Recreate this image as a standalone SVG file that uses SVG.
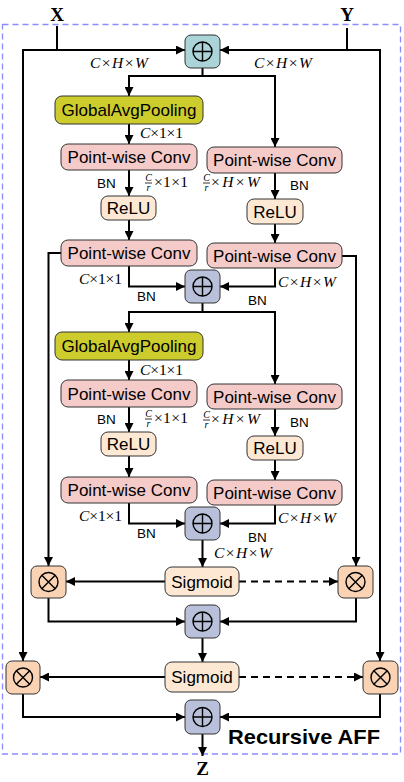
<svg xmlns="http://www.w3.org/2000/svg" width="404" height="782" viewBox="0 0 404 782">
<defs>
<style>
.bx{stroke:#333;stroke-width:1}
.add{fill:#b9c0d9}
.add0{fill:#abd4d8}
.mul{fill:#f9d3b3}
.pw{fill:#f5cbc9}
.gap{fill:#cccc2c}
.act{fill:#fde8d4}
.sym{fill:none;stroke:#000;stroke-width:1.4}
.t{font-family:"Liberation Sans",Arial,sans-serif;font-size:17px;text-anchor:middle;fill:#000}
.bn{font-family:"Liberation Sans",Arial,sans-serif;font-size:13.5px;fill:#000}
.m{font-family:"Liberation Serif","Times New Roman",serif;font-size:15.5px;fill:#000}
.i{font-style:italic}
.fr{font-family:"Liberation Serif",serif;font-style:italic;font-size:10px;text-anchor:middle}
.c{fill:none;stroke:#000;stroke-width:2}
.d{stroke-dasharray:7 5}
.io{font-family:"Liberation Serif","Times New Roman",serif;font-weight:bold;font-size:19px;text-anchor:middle}
</style>
<marker id="ah" viewBox="0 0 10 10" refX="10" refY="5" markerWidth="10" markerHeight="9" markerUnits="userSpaceOnUse" orient="auto">
<path d="M0,0 L10,5 L0,10 z" fill="#000"/>
</marker>
<g id="plusSym"><circle r="9.5" class="sym"/><path d="M-9.5,0 H9.5 M0,-9.5 V9.5" class="sym"/></g>
<g id="mulSym"><circle r="9.5" class="sym"/><path d="M-6.7,-6.7 L6.7,6.7 M-6.7,6.7 L6.7,-6.7" class="sym"/></g>
</defs>

<rect x="2.5" y="24.5" width="398" height="729.5" fill="none" stroke="#8a8cff" stroke-width="1.3" stroke-dasharray="6 4"/>

<text class="io" x="57" y="21">X</text>
<text class="io" x="347" y="21">Y</text>
<text class="io" x="202.5" y="775">Z</text>
<text x="228" y="744" font-family="Liberation Sans,Arial,sans-serif" font-weight="bold" font-size="21" textLength="152" lengthAdjust="spacingAndGlyphs">Recursive AFF</text>

<g id="connectors">
<path class="c" d="M57,26 V50"/>
<path class="c" d="M347,28 V50"/>
<path class="c" marker-end="url(#ah)" d="M22,50 H185"/>
<path class="c" marker-end="url(#ah)" d="M23,50 V661"/>
<path class="c" marker-end="url(#ah)" d="M381,50 H220"/>
<path class="c" marker-end="url(#ah)" d="M380,50 V661"/>
<path class="c" d="M202.5,68 V76"/>
<path class="c" marker-end="url(#ah)" d="M203.5,76 H129 V96"/>
<path class="c" marker-end="url(#ah)" d="M201.5,76 H275 V147"/>
<path class="c" marker-end="url(#ah)" d="M129,124 V144"/>
<path class="c" marker-end="url(#ah)" d="M129,170 V196"/>
<path class="c" marker-end="url(#ah)" d="M275,173 V199"/>
<path class="c" marker-end="url(#ah)" d="M129,220 V240"/>
<path class="c" marker-end="url(#ah)" d="M275,224 V243"/>
<path class="c" marker-end="url(#ah)" d="M129,266 V286.5 H185"/>
<path class="c" marker-end="url(#ah)" d="M275,268 V286.5 H220"/>
<path class="c" marker-end="url(#ah)" d="M61,253 H48.5 V566"/>
<path class="c" marker-end="url(#ah)" d="M342,256 H356 V566"/>
<path class="c" d="M202.5,303 V312"/>
<path class="c" marker-end="url(#ah)" d="M203.5,312 H129 V332"/>
<path class="c" marker-end="url(#ah)" d="M201.5,312 H275 V384"/>
<path class="c" marker-end="url(#ah)" d="M129,360 V380"/>
<path class="c" marker-end="url(#ah)" d="M129,407 V432"/>
<path class="c" marker-end="url(#ah)" d="M275,409 V436"/>
<path class="c" marker-end="url(#ah)" d="M129,456 V477"/>
<path class="c" marker-end="url(#ah)" d="M275,460 V480"/>
<path class="c" marker-end="url(#ah)" d="M129,503 V523.5 H185"/>
<path class="c" marker-end="url(#ah)" d="M275,505 V523.5 H220"/>
<path class="c" marker-end="url(#ah)" d="M202.5,540 V567"/>
<path class="c" marker-end="url(#ah)" d="M165,581.5 H66"/>
<path class="c d" marker-end="url(#ah)" d="M239,581.5 H338"/>
<path class="c" marker-end="url(#ah)" d="M48.5,598 V621.5 H185"/>
<path class="c" marker-end="url(#ah)" d="M356,598 V621.5 H220"/>
<path class="c" marker-end="url(#ah)" d="M202.5,638 V662"/>
<path class="c" marker-end="url(#ah)" d="M165,677 H40"/>
<path class="c d" marker-end="url(#ah)" d="M239,677 H363"/>
<path class="c" marker-end="url(#ah)" d="M23,694 V717 H185"/>
<path class="c" marker-end="url(#ah)" d="M380,694 V717 H220"/>
<path class="c" marker-end="url(#ah)" d="M202.5,734 V756"/>
</g>

<g id="labels">
<text class="m" x="90" y="68" textLength="58"><tspan class="i">C</tspan>×<tspan class="i">H</tspan>×<tspan class="i">W</tspan></text>
<text class="m" x="254" y="68" textLength="58"><tspan class="i">C</tspan>×<tspan class="i">H</tspan>×<tspan class="i">W</tspan></text>
<text class="m" x="140" y="138" textLength="43"><tspan class="i">C</tspan>×1×1</text>
<text class="bn" x="97" y="188">BN</text>
<text class="fr" x="148.5" y="180.5">C</text><path d="M145,183 H152" stroke="#000" stroke-width="0.8"/><text class="fr" x="148.5" y="190.5">r</text>
<text class="m" x="154" y="187" textLength="34">×1×1</text>
<text class="fr" x="206.5" y="180.5">C</text><path d="M203,183 H210" stroke="#000" stroke-width="0.8"/><text class="fr" x="206.5" y="190.5">r</text>
<text class="m" x="211" y="187" textLength="49">×<tspan class="i">H</tspan>×<tspan class="i">W</tspan></text>
<text class="bn" x="290" y="190">BN</text>
<text class="m" x="79" y="284" textLength="43"><tspan class="i">C</tspan>×1×1</text>
<text class="bn" x="137" y="301">BN</text>
<text class="m" x="278" y="287" textLength="58"><tspan class="i">C</tspan>×<tspan class="i">H</tspan>×<tspan class="i">W</tspan></text>
<text class="bn" x="248" y="305">BN</text>
<text class="m" x="140" y="375" textLength="43"><tspan class="i">C</tspan>×1×1</text>
<text class="bn" x="97" y="424">BN</text>
<text class="fr" x="148.5" y="416.5">C</text><path d="M145,419 H152" stroke="#000" stroke-width="0.8"/><text class="fr" x="148.5" y="426.5">r</text>
<text class="m" x="154" y="423" textLength="34">×1×1</text>
<text class="fr" x="206.5" y="417.5">C</text><path d="M203,420 H210" stroke="#000" stroke-width="0.8"/><text class="fr" x="206.5" y="427.5">r</text>
<text class="m" x="211" y="424" textLength="49">×<tspan class="i">H</tspan>×<tspan class="i">W</tspan></text>
<text class="bn" x="290" y="427">BN</text>
<text class="m" x="79" y="521" textLength="43"><tspan class="i">C</tspan>×1×1</text>
<text class="bn" x="137" y="538">BN</text>
<text class="m" x="278" y="523" textLength="58"><tspan class="i">C</tspan>×<tspan class="i">H</tspan>×<tspan class="i">W</tspan></text>
<text class="bn" x="248" y="542">BN</text>
<text class="m" x="214" y="558" textLength="58"><tspan class="i">C</tspan>×<tspan class="i">H</tspan>×<tspan class="i">W</tspan></text>
</g>

<g id="add1"><rect class="bx add0" x="185" y="35" width="35" height="33" rx="6"/><use href="#plusSym" x="202.5" y="51.5"/></g>
<g id="gap1"><rect class="bx gap" x="55" y="96" width="148" height="28" rx="7"/><text class="t" x="129" y="116">GlobalAvgPooling</text></g>
<g id="pwL1"><rect class="bx pw" x="61" y="144" width="136" height="26" rx="7"/><text class="t" x="129" y="163">Point-wise Conv</text></g>
<g id="pwR1"><rect class="bx pw" x="207" y="147" width="135" height="26" rx="7"/><text class="t" x="274.5" y="166">Point-wise Conv</text></g>
<g id="reluL1"><rect class="bx act" x="101" y="196" width="55" height="24" rx="7"/><text class="t" x="128.5" y="214">ReLU</text></g>
<g id="reluR1"><rect class="bx act" x="247" y="199" width="56" height="25" rx="7"/><text class="t" x="275" y="217.5">ReLU</text></g>
<g id="pwL2"><rect class="bx pw" x="61" y="240" width="136" height="26" rx="7"/><text class="t" x="129" y="259">Point-wise Conv</text></g>
<g id="pwR2"><rect class="bx pw" x="207" y="243" width="135" height="25" rx="7"/><text class="t" x="274.5" y="261.5">Point-wise Conv</text></g>
<g id="add2"><rect class="bx add" x="185" y="270" width="35" height="33" rx="6"/><use href="#plusSym" x="202.5" y="286.5"/></g>
<g id="gap2"><rect class="bx gap" x="55" y="332" width="148" height="28" rx="7"/><text class="t" x="129" y="352">GlobalAvgPooling</text></g>
<g id="pwL3"><rect class="bx pw" x="61" y="380" width="136" height="27" rx="7"/><text class="t" x="129" y="399.5">Point-wise Conv</text></g>
<g id="pwR3"><rect class="bx pw" x="207" y="384" width="135" height="25" rx="7"/><text class="t" x="274.5" y="402.5">Point-wise Conv</text></g>
<g id="reluL2"><rect class="bx act" x="101" y="432" width="55" height="24" rx="7"/><text class="t" x="128.5" y="450">ReLU</text></g>
<g id="reluR2"><rect class="bx act" x="247" y="436" width="56" height="24" rx="7"/><text class="t" x="275" y="454">ReLU</text></g>
<g id="pwL4"><rect class="bx pw" x="61" y="477" width="136" height="26" rx="7"/><text class="t" x="129" y="496">Point-wise Conv</text></g>
<g id="pwR4"><rect class="bx pw" x="207" y="480" width="135" height="25" rx="7"/><text class="t" x="274.5" y="498.5">Point-wise Conv</text></g>
<g id="add3"><rect class="bx add" x="185" y="507" width="35" height="33" rx="6"/><use href="#plusSym" x="202.5" y="523.5"/></g>
<g id="sig1"><rect class="bx act" x="165" y="567" width="74" height="29" rx="7"/><text class="t" x="202" y="587.5">Sigmoid</text></g>
<g id="mulL1"><rect class="bx mul" x="31" y="566" width="35" height="32" rx="6"/><use href="#mulSym" x="48.5" y="582"/></g>
<g id="mulR1"><rect class="bx mul" x="338" y="566" width="35" height="32" rx="6"/><use href="#mulSym" x="355.5" y="582"/></g>
<g id="add4"><rect class="bx add" x="185" y="605" width="35" height="33" rx="6"/><use href="#plusSym" x="202.5" y="621.5"/></g>
<g id="sig2"><rect class="bx act" x="165" y="662" width="74" height="30" rx="7"/><text class="t" x="202" y="683">Sigmoid</text></g>
<g id="mulL2"><rect class="bx mul" x="6" y="661" width="34" height="33" rx="6"/><use href="#mulSym" x="23" y="677.5"/></g>
<g id="mulR2"><rect class="bx mul" x="363" y="661" width="35" height="33" rx="6"/><use href="#mulSym" x="380.5" y="677.5"/></g>
<g id="add5"><rect class="bx add" x="185" y="700" width="35" height="34" rx="6"/><use href="#plusSym" x="202.5" y="717"/></g>
</svg>
